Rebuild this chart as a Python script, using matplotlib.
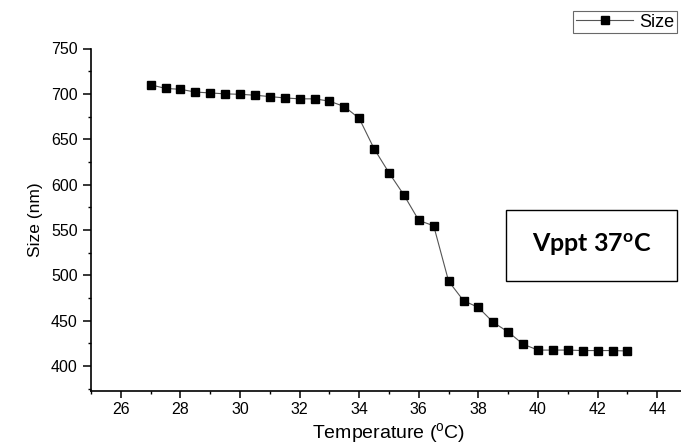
import numpy as np
import matplotlib
matplotlib.use("Agg")
import matplotlib.pyplot as plt
from matplotlib.patches import Rectangle
from matplotlib.ticker import MultipleLocator

plt.rcParams["font.family"] = ["Liberation Sans", "DejaVu Sans"]
plt.rcParams["mathtext.default"] = "regular"

# temperature (C) and hydrodynamic size (nm)
temperature = [27.0, 27.5, 28.0, 28.5, 29.0, 29.5, 30.0, 30.5, 31.0, 31.5,
               32.0, 32.5, 33.0, 33.5, 34.0, 34.5, 35.0, 35.5, 36.0, 36.5,
               37.0, 37.5, 38.0, 38.5, 39.0, 39.5, 40.0, 40.5, 41.0, 41.5,
               42.0, 42.5, 43.0]
size_nm = [710, 706, 705, 702, 701, 700, 699.5, 698.5, 697, 695.5,
           694.5, 694.5, 692, 686, 673, 639.5, 613, 588.5, 560.5, 554.5,
           493.5, 472, 464.5, 448, 437.5, 424, 417.5, 417.5, 417.5, 417,
           417, 417, 416.5]

x_ticks = [26, 28, 30, 32, 34, 36, 38, 40, 42, 44]
y_ticks = [400, 450, 500, 550, 600, 650, 700, 750]

W, H = 681, 445
fig = plt.figure(figsize=(W / 100, H / 100), dpi=100)
ax = fig.add_axes([91 / W, 54 / H, 596 / W, 342.5 / H])

ax.plot(temperature, size_nm, color="#555555", linewidth=0.8,
        marker="s", markersize=6, markerfacecolor="black",
        markeredgecolor="black", label="Size")

ax.set_xlim(25, 45)
ax.set_ylim(372.4, 750)
ax.set_xticks(x_ticks)
ax.set_yticks(y_ticks)
ax.xaxis.set_minor_locator(MultipleLocator(1))
ax.yaxis.set_minor_locator(MultipleLocator(25))
ax.spines["top"].set_visible(False)
ax.spines["right"].set_visible(False)
for s in ("left", "bottom"):
    ax.spines[s].set_linewidth(1.2)
ax.tick_params(which="major", direction="out", length=5, width=1.1,
               labelsize=11.5, pad=3)
ax.tick_params(which="minor", direction="out", length=2.5, width=1.0)
ax.tick_params(axis="y", which="major", length=5.5, pad=4)

ax.set_xlabel(r"Temperature ($^{o}$C)", fontsize=14, labelpad=3)
ax.set_ylabel("Size (nm)", fontsize=12.5, labelpad=6)

leg = ax.legend(loc="upper left", bbox_to_anchor=(573 / W, 1 - 11 / H),
                bbox_transform=fig.transFigure, fontsize=13, frameon=True,
                fancybox=False, edgecolor="#444444", handlelength=3.2,
                handletextpad=0.3, borderpad=0.15, borderaxespad=0)
leg.get_frame().set_linewidth(0.8)

fig.patches.append(Rectangle((506 / W, 1 - 281 / H), 171 / W, 71 / H,
                             transform=fig.transFigure, fill=False,
                             edgecolor="black", linewidth=1.0))
fig.text(592 / W, 1 - 245 / H, r"Vppt 37$^{o}$C", fontsize=18,
         fontweight="bold", family=["Lato", "DejaVu Sans"],
         ha="center", va="center")

fig.savefig("out.png", dpi=100)
